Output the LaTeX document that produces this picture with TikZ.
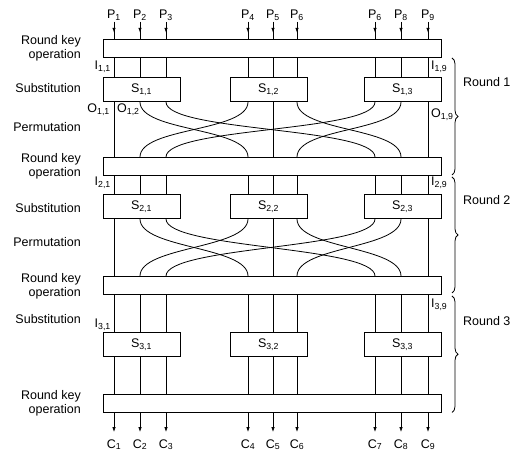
\documentclass[tikz,border=0pt]{standalone}
\usepackage{fontspec}
\setmainfont{Liberation Sans}
\usetikzlibrary{arrows.meta,decorations.pathreplacing,decorations.markings}

\newcommand{\subl}[2]{#1\textsubscript{#2}}

\tikzset{
	keybox/.style={draw,line width=0.9pt,minimum width=338pt,minimum height=18pt},
	sbox/.style={draw,line width=0.9pt,minimum width=77pt,minimum height=24pt},
	wire/.style={line width=0.8pt},
	inarrow/.style={wire,postaction={decorate,decoration={markings,mark=at position 0.64 with {\arrow{Latex[length=5pt,width=3.5pt]}}}}},
	outarrow/.style={wire,-{Latex[length=5pt,width=3.5pt]},shorten >=6pt},
	rowlabel/.style={anchor=east,align=right},
	roundbrace/.style={wire,decorate,decoration={brace,amplitude=6pt}}
}

\begin{document}
\begin{tikzpicture}[x=1pt,y=-1pt,every node/.style={font=\fontsize{12.5}{14}\selectfont,inner sep=1pt}]
				\useasboundingbox (0,0) rectangle (529,457);
				
				% wire positions, inputs and outputs
				\foreach \i/\x/\t in {1/114/1,2/140/2,3/166/3,4/248/4,5/273/5,6/297/6,7/375/6,8/401/8,9/428/9}{
					\coordinate (l\i) at (\x,0);
					\node[anchor=base] (p\i) at (\x,18.5) {\subl{P}{\t}};
					\node[anchor=base] (c\i) at (\x,448) {\subl{C}{\i}};
				}
				\coordinate (bx) at (452,0);
				
				% round key boxes
				\node[keybox] (rk1) at (272,48.5) {};
				\node[keybox] (rk2) at (272,166.5) {};
				\node[keybox] (rk3) at (272,285.5) {};
				\node[keybox] (rk4) at (272,403) {};
				
				% substitution boxes
				\foreach \r/\y in {1/89.5,2/206.5,3/344.5}
					\foreach \g/\x in {1/141.5,2/268.5,3/402.5}
						\node[sbox] (s\r\g) at (\x,\y) {\subl{S}{\r,\g}};
				
				% row labels
				\node[rowlabel] (lk1) at (82,48) {Round key\\operation};
				\node[rowlabel] (ls1) at (82,88) {Substitution};
				\node[rowlabel] (lp1) at (82,127) {Permutation};
				\node[rowlabel] (lk2) at (82,166) {Round key\\operation};
				\node[rowlabel] (ls2) at (82,208) {Substitution};
				\node[rowlabel] (lp2) at (82,242) {Permutation};
				\node[rowlabel] (lk3) at (82,286) {Round key\\operation};
				\node[rowlabel] (ls3) at (82,319) {Substitution};
				\node[rowlabel] (lk4) at (82,403) {Round key\\operation};
				
				% inputs and outputs
				\foreach \i in {1,...,9}{
					\draw[inarrow] (p\i.south) -- (rk1.north -| l\i);
					\draw[outarrow] (rk4.south -| l\i) -- (c\i.north);
				}
				
				% key box to substitution box
				\foreach \r in {1,2,3}
					\foreach \i/\g in {1/1,2/1,3/1,4/2,5/2,6/2,7/3,8/3,9/3}
						\draw[wire] (rk\r.south -| l\i) -- (s\r\g.north -| l\i);
				
				% permutation
				\foreach \r/\n in {1/2,2/3}{
					\foreach \i/\g in {1/1,5/2,9/3}
						\draw[wire] (s\r\g.south -| l\i) -- (rk\n.north -| l\i);
					\foreach \a/\g/\b in {2/1/4,4/2/2,3/1/7,7/3/3,6/2/8,8/3/6}
						\draw[wire] (s\r\g.south -| l\a) .. controls +(0,30) and +(0,-30) .. (rk\n.north -| l\b);
				}
				\foreach \i/\g in {1/1,2/1,3/1,4/2,5/2,6/2,7/3,8/3,9/3}
					\draw[wire] (s3\g.south -| l\i) -- (rk4.north -| l\i);
				
				% wire labels
				\node[anchor=east] (i11) at (112,67) {\subl{I}{1,1}};
				\node[anchor=west] (i19) at (430,67) {\subl{I}{1,9}};
				\node[anchor=east] (o11) at (111,110) {\subl{O}{1,1}};
				\node[anchor=west] (o12) at (116,110) {\subl{O}{1,2}};
				\node[anchor=west] (o19) at (430,115) {\subl{O}{1,9}};
				\node[anchor=east] (i21) at (112,183) {\subl{I}{2,1}};
				\node[anchor=west] (i29) at (430,183) {\subl{I}{2,9}};
				\node[anchor=east] (i31) at (112,325) {\subl{I}{3,1}};
				\node[anchor=west] (i39) at (430,305) {\subl{I}{3,9}};
				
				% rounds
				\draw[roundbrace] (rk1.south -| bx) -- ([yshift=1pt]rk2.south -| bx);
				\draw[roundbrace] ([yshift=-1pt]rk2.south -| bx) -- ([yshift=2pt]rk3.south -| bx);
				\draw[roundbrace] ([yshift=-1pt]rk3.south -| bx) -- (rk4.south -| bx);
				\node[anchor=west] (round1) at (462,82) {Round 1};
				\node[anchor=west] (round2) at (462,200) {Round 2};
				\node[anchor=west] (round3) at (462,321) {Round 3};
			\end{tikzpicture}
\end{document}
